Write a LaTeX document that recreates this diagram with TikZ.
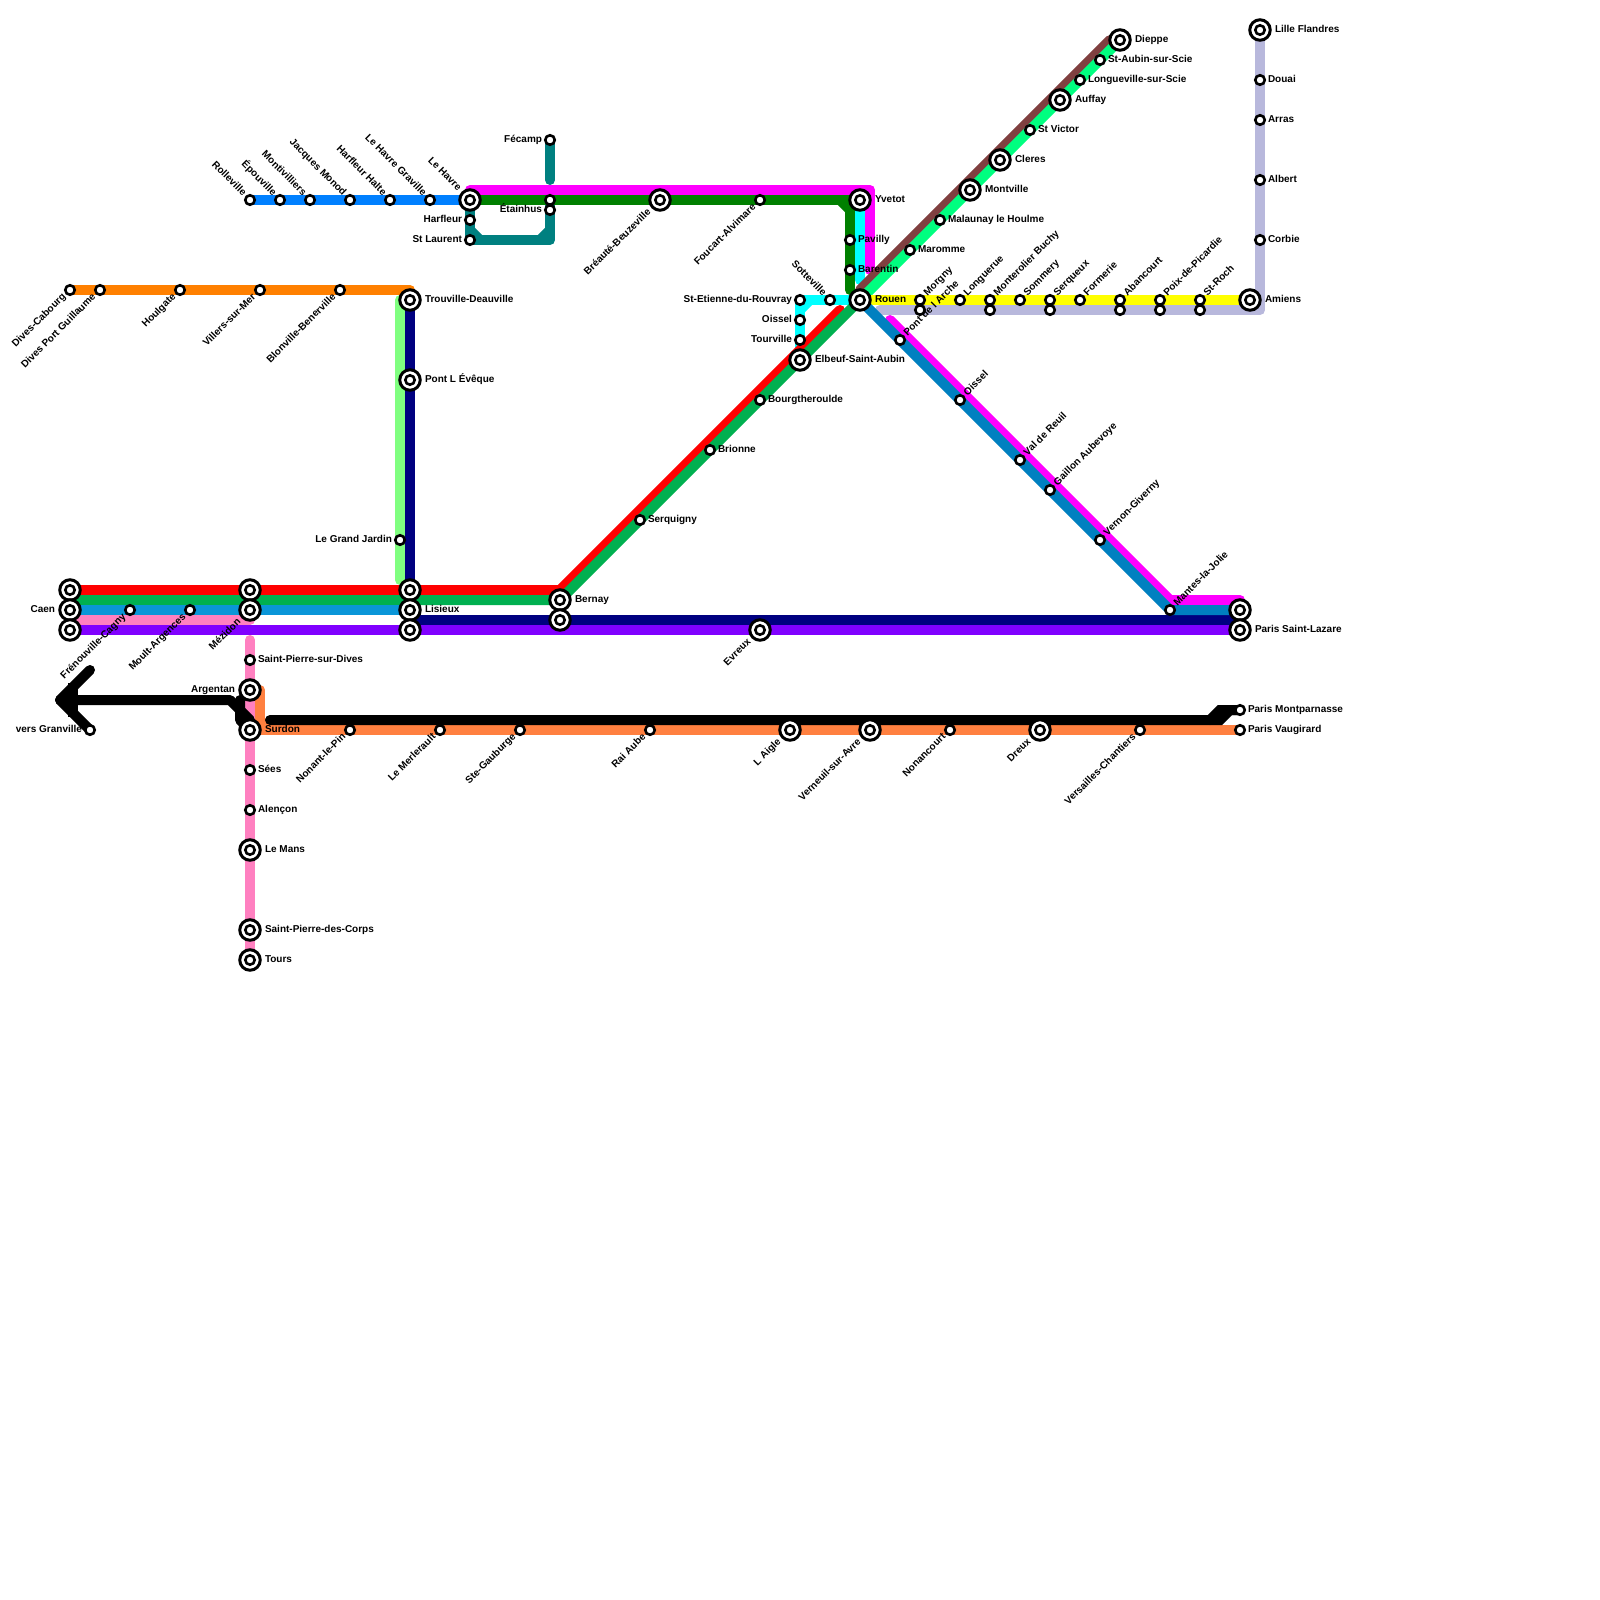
\documentclass[tikz,border=0pt]{standalone}
\usepackage{fontspec}
\setmainfont{Liberation Sans}
\usetikzlibrary{calc}
\pgfdeclarelayer{lines}
\pgfsetlayers{lines,main}
\definecolor{cTeal}{HTML}{008080}
\definecolor{cDkGreen}{HTML}{008000}
\definecolor{cMag}{HTML}{FF00FF}
\definecolor{cCyan}{HTML}{00FFFF}
\definecolor{cRed}{HTML}{FF0000}
\definecolor{cGreen}{HTML}{00B050}
\definecolor{cSky}{HTML}{0A96D8}
\definecolor{cPink}{HTML}{FF80C0}
\definecolor{cPurple}{HTML}{8000FF}
\definecolor{cNavy}{HTML}{000080}
\definecolor{cLtGreen}{HTML}{80FF80}
\definecolor{cOrange}{HTML}{FF8000}
\definecolor{cCoral}{HTML}{FF8040}
\definecolor{cMint}{HTML}{00FF80}
\definecolor{cBrown}{HTML}{804040}
\definecolor{cYellow}{HTML}{FFFF00}
\definecolor{cLav}{HTML}{B8B8DC}
\definecolor{cBlue}{HTML}{0080C0}
\definecolor{cAzure}{HTML}{0080FF}
\tikzset{
  smallst/.style={circle,draw=black,fill=white,line width=2.6pt,minimum size=9.5pt,inner sep=0pt,outer sep=0pt},
  bigst/.style={circle,draw=black,fill=white,line width=3pt,minimum size=20.5pt,inner sep=0pt,outer sep=0pt,
    path picture={\draw[line width=2.6pt,black] (path picture bounding box.center) circle (4.7pt);}},
  lbl/.style={font=\fontsize{10}{12}\selectfont\bfseries,inner sep=0pt,outer sep=0pt,text height=5.2pt,text depth=0pt,text=black},
  lR/.style={anchor=west},
  lL/.style={anchor=east},
  lUR/.style={rotate=45,anchor=west},
  lDL/.style={rotate=45,anchor=east},
  lUL/.style={rotate=-45,anchor=east},
  rail/.style={line width=10pt,line cap=round,line join=round},
  chamf/.style={line width=10pt,line cap=butt},
}
\def\angR{0}\def\angL{180}\def\angUR{45}\def\angDL{225}\def\angUL{135}
\newcommand\Sm[5]{\node[smallst] (#1) at (#2,#3) {};
  \node[lbl,l#4] (#1-lab) at ($(#1.center)+(\csname ang#4\endcsname:8pt)$) {#5};}
\newcommand\Bg[5]{\node[bigst] (#1) at (#2,#3) {};
  \node[lbl,l#4] (#1-lab) at ($(#1.center)+(\csname ang#4\endcsname:15pt)$) {#5};}
\newcommand\SmN[3]{\node[smallst] (#1) at (#2,#3) {};}
\newcommand\BgN[3]{\node[bigst] (#1) at (#2,#3) {};}
\begin{document}
\begin{tikzpicture}[x=1pt,y=-1pt]
\useasboundingbox (0,0) rectangle (1600,1600);
% --- free line vertices
\coordinate (vMagS) at (470,190);
\coordinate (vMagC) at (870,190);
\coordinate (vMagE) at (870,270);
\coordinate (vGrC) at (850,200);
\coordinate (vGrE) at (850,290);
\coordinate (vCyE) at (860,280);
\coordinate (vCyC) at (800,300);
\coordinate (vTeA) at (470,240);
\coordinate (vTeB) at (550,240);
\coordinate (vFeE) at (550,180);
\coordinate (vRedC) at (560,590);
\coordinate (vRedE) at (840,310);
\coordinate (vGnW) at (70,600);
\coordinate (vGnC) at (560,600);
\coordinate (vPkE) at (250,620);
\coordinate (vPkW) at (70,620);
\coordinate (vPkS) at (250,640);
\coordinate (vNvW) at (410,620);
\coordinate (vNvE) at (1240,620);
\coordinate (vLgT) at (400,300);
\coordinate (vLgB) at (400,580);
\coordinate (vOrC) at (410,290);
\coordinate (vCoT) at (260,690);
\coordinate (vCoC) at (260,730);
\coordinate (vBrS) at (860,290);
\coordinate (vBrE) at (1110,40);
\coordinate (vLaS) at (880,310);
\coordinate (vLaC) at (1260,310);
\coordinate (vM2S) at (890,320);
\coordinate (vM2C) at (1170,600);
\coordinate (vM2E) at (1240,600);
\coordinate (vArrTip) at (60,700);
\coordinate (vArrUp) at (90,670);
\coordinate (vArrNa) at (73,683);
\coordinate (vArrNb) at (73,717);
\coordinate (vBkA) at (230,700);
\coordinate (vBkB) at (250,720);
\coordinate (vBkC) at (240,700);
\coordinate (vBkD) at (240,720);
\coordinate (vBeS) at (270,720);
\coordinate (vBeA) at (1210,720);
\coordinate (vBeB) at (1220,710);
\coordinate (vBeC) at (1220,720);
\coordinate (vBeD) at (1230,710);
% --- stations
\Sm{rolle}{250}{200}{UL}{Rolleville}
\Sm{epou}{280}{200}{UL}{Épouville}
\Sm{monti}{310}{200}{UL}{Montivilliers}
\Sm{jacq}{350}{200}{UL}{Jacques Monod}
\Sm{harha}{390}{200}{UL}{Harfleur Halte}
\Sm{lhg}{430}{200}{UL}{Le Havre Graville}
\Bg{lehavre}{470}{200}{UL}{Le Havre}
\Sm{harf}{470}{220}{L}{Harfleur}
\Sm{stlau}{470}{240}{L}{St Laurent}
\Sm{fecamp}{550}{140}{L}{Fécamp}
\SmN{etaA}{550}{200}
\Sm{etaB}{550}{210}{L}{Étainhus}
\Bg{breaute}{660}{200}{DL}{Bréauté-Beuzeville}
\Sm{foucart}{760}{200}{DL}{Foucart-Alvimare}
\Bg{yvetot}{860}{200}{R}{Yvetot}
\Sm{pavilly}{850}{240}{R}{Pavilly}
\Sm{barentin}{850}{270}{R}{Barentin}
\Sm{sotte}{830}{300}{UL}{Sotteville}
\Sm{stet}{800}{300}{L}{St-Etienne-du-Rouvray}
\Sm{oisselA}{800}{320}{L}{Oissel}
\Sm{tourv}{800}{340}{L}{Tourville}
\Bg{elbeuf}{800}{360}{R}{Elbeuf-Saint-Aubin}
\Bg{rouen}{860}{300}{R}{Rouen}
\Sm{bourg}{760}{400}{R}{Bourgtheroulde}
\Sm{brionne}{710}{450}{R}{Brionne}
\Sm{serq}{640}{520}{R}{Serquigny}
\Bg{bernayA}{560}{600}{R}{Bernay}
\BgN{bernayB}{560}{620}
\Sm{maromme}{910}{250}{R}{Maromme}
\Sm{malau}{940}{220}{R}{Malaunay le Houlme}
\Bg{montv}{970}{190}{R}{Montville}
\Bg{cleres}{1000}{160}{R}{Cleres}
\Sm{stvic}{1030}{130}{R}{St Victor}
\Bg{auffay}{1060}{100}{R}{Auffay}
\Sm{longv}{1080}{80}{R}{Longueville-sur-Scie}
\Sm{staub}{1100}{60}{R}{St-Aubin-sur-Scie}
\Bg{dieppe}{1120}{40}{R}{Dieppe}
\Sm{morgnyA}{920}{300}{UR}{Morgny}
\SmN{morgnyB}{920}{310}
\Sm{longu}{960}{300}{UR}{Longuerue}
\Sm{montbA}{990}{300}{UR}{Monterolier Buchy}
\SmN{montbB}{990}{310}
\Sm{somm}{1020}{300}{UR}{Sommery}
\Sm{serxA}{1050}{300}{UR}{Serqueux}
\SmN{serxB}{1050}{310}
\Sm{form}{1080}{300}{UR}{Formerie}
\Sm{abanA}{1120}{300}{UR}{Abancourt}
\SmN{abanB}{1120}{310}
\Sm{poixA}{1160}{300}{UR}{Poix-de-Picardie}
\SmN{poixB}{1160}{310}
\Sm{strA}{1200}{300}{UR}{St-Roch}
\SmN{strB}{1200}{310}
\Bg{amiens}{1250}{300}{R}{Amiens}
\Sm{corbie}{1260}{240}{R}{Corbie}
\Sm{albert}{1260}{180}{R}{Albert}
\Sm{arras}{1260}{120}{R}{Arras}
\Sm{douai}{1260}{80}{R}{Douai}
\Bg{lille}{1260}{30}{R}{Lille Flandres}
\Sm{pontar}{900}{340}{UR}{Pont de l Arche}
\Sm{oisselB}{960}{400}{UR}{Oissel}
\Sm{valr}{1020}{460}{UR}{Val de Reuil}
\Sm{gaillon}{1050}{490}{UR}{Gaillon Aubevoye}
\Sm{vernon}{1100}{540}{UR}{Vernon-Giverny}
\Sm{mantes}{1170}{610}{UR}{Mantes-la-Jolie}
\BgN{pslA}{1240}{610}
\Bg{pslB}{1240}{630}{R}{Paris Saint-Lazare}
\Bg{evreux}{760}{630}{DL}{Evreux}
\Sm{dives}{70}{290}{DL}{Dives-Cabourg}
\Sm{divesp}{100}{290}{DL}{Dives Port Guillaume}
\Sm{houl}{180}{290}{DL}{Houlgate}
\Sm{villers}{260}{290}{DL}{Villers-sur-Mer}
\Sm{blon}{340}{290}{DL}{Blonville-Benerville}
\Bg{trouv}{410}{300}{R}{Trouville-Deauville}
\Bg{pontl}{410}{380}{R}{Pont L Évêque}
\Sm{gjardin}{400}{540}{L}{Le Grand Jardin}
\BgN{lisA}{410}{590}
\Bg{lisB}{410}{610}{R}{Lisieux}
\BgN{lisC}{410}{630}
\BgN{caenA}{70}{590}
\Bg{caenB}{70}{610}{L}{Caen}
\BgN{caenC}{70}{630}
\BgN{mezA}{250}{590}
\Bg{mezB}{250}{610}{DL}{Mézidon}
\Sm{freno}{130}{610}{DL}{Frénouville-Cagny}
\Sm{moult}{190}{610}{DL}{Moult-Argences}
\Sm{stpd}{250}{660}{R}{Saint-Pierre-sur-Dives}
\Bg{argen}{250}{690}{L}{Argentan}
\Bg{surdon}{250}{730}{R}{Surdon}
\Sm{sees}{250}{770}{R}{Sées}
\Sm{alencon}{250}{810}{R}{Alençon}
\Bg{lemans}{250}{850}{R}{Le Mans}
\Bg{spc}{250}{930}{R}{Saint-Pierre-des-Corps}
\Bg{tours}{250}{960}{R}{Tours}
\Sm{gran}{90}{730}{L}{vers Granville}
\Sm{nonant}{350}{730}{DL}{Nonant-le-Pin}
\Sm{merle}{440}{730}{DL}{Le Merlerault}
\Sm{gaub}{520}{730}{DL}{Ste-Gauburge}
\Sm{rai}{650}{730}{DL}{Rai Aube}
\Bg{laigle}{790}{730}{DL}{L Aigle}
\Bg{verneuil}{870}{730}{DL}{Verneuil-sur-Avre}
\Sm{nonan}{950}{730}{DL}{Nonancourt}
\Bg{dreux}{1040}{730}{DL}{Dreux}
\Sm{versa}{1140}{730}{DL}{Versailles-Chantiers}
\Sm{montp}{1240}{710}{R}{Paris Montparnasse}
\Sm{vaug}{1240}{730}{R}{Paris Vaugirard}
% --- lines
\begin{pgfonlayer}{lines}
\draw[rail,cAzure] (rolle.center) -- (lehavre.center);
\draw[rail,cTeal] (lehavre.center) -- (vTeA.center) -- (vTeB.center) -- (etaA.center);
\draw[chamf,cTeal] ($(vTeA.center)+(0,-10)$) -- ($(vTeA.center)+(10,0)$);
\draw[chamf,cTeal] ($(vTeB.center)+(0,-10)$) -- ($(vTeB.center)+(-10,0)$);
\draw[rail,cTeal] (fecamp.center) -- (vFeE.center);
\draw[rail,cMag] (vMagS.center) -- (vMagC.center) -- (vMagE.center);
\draw[rail,cCyan] (yvetot.center) -- (vCyE.center);
\draw[rail,cCyan] (rouen.center) -- (vCyC.center) -- (elbeuf.center);
\draw[chamf,cCyan] ($(vCyC.center)+(0,10)$) -- ($(vCyC.center)+(10,0)$);
\draw[rail,cDkGreen] (lehavre.center) -- (vGrC.center) -- (vGrE.center);
\draw[chamf,cDkGreen] ($(vGrC.center)+(-10,0)$) -- ($(vGrC.center)+(0,10)$);
\draw[rail,cRed] (caenA.center) -- (vRedC.center) -- (vRedE.center);
\draw[rail,cGreen] (vGnW.center) -- (vGnC.center) -- (rouen.center);
\draw[rail,cSky] (caenB.center) -- (lisB.center);
\draw[rail,cPink] (vPkW.center) -- (vPkE.center);
\draw[rail,cPink] (vPkS.center) -- (tours.center);
\draw[rail,cPurple] (caenC.center) -- (pslB.center);
\draw[rail,cNavy] (trouv.center) -- (vNvW.center) -- (vNvE.center);
\draw[rail,cLtGreen] (vLgT.center) -- (vLgB.center);
\draw[rail,cOrange] (dives.center) -- (vOrC.center) -- (trouv.center);
\draw[rail,cCoral] (vCoT.center) -- (vCoC.center) -- (vaug.center);
\draw[chamf,cCoral] ($(vCoC.center)+(0,-10)$) -- ($(vCoC.center)+(10,0)$);
\draw[rail,cBrown] (vBrS.center) -- (vBrE.center);
\draw[rail,cMint] (rouen.center) -- (dieppe.center);
\draw[rail,cLav] (vLaS.center) -- (vLaC.center) -- (lille.center);
\draw[rail,cYellow] (rouen.center) -- (amiens.center);
\draw[rail,cMag] (vM2S.center) -- (vM2C.center) -- (vM2E.center) -- (pslA.center);
\draw[rail,cBlue] (rouen.center) -- (mantes.center) -- (pslA.center);
\draw[rail,black] (vArrUp.center) -- (vArrTip.center) -- (gran.center);
\draw[chamf,black] (vArrNa.center) -- (vArrNb.center);
\draw[rail,black] (vArrTip.center) -- (vBkA.center) -- (vBkB.center);
\draw[rail,black] (vBkC.center) -- (vBkD.center) -- (surdon.center);
\draw[rail,black,line join=miter] (vBeS.center) -- (vBeC.center) -- (vBeD.center) -- (montp.center);
\draw[rail,black,line join=miter] (vBeA.center) -- (vBeB.center) -- (montp.center);
\end{pgfonlayer}
\end{tikzpicture}
\end{document}
